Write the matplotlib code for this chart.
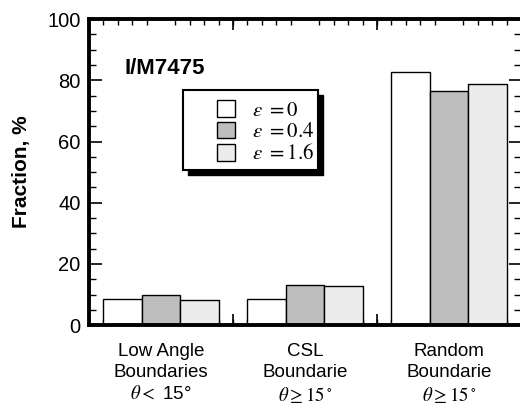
import numpy as np
import matplotlib
matplotlib.use('Agg')
from matplotlib import pyplot as plt
from matplotlib.ticker import MultipleLocator
from matplotlib.patches import Rectangle

plt.rcParams['font.family'] = ['Liberation Sans', 'DejaVu Sans']
plt.rcParams['mathtext.fontset'] = 'stix'

# data
categories = ['Low Angle\nBoundaries\n$\\theta<$ 15°',
              'CSL\nBoundarie\n$\\theta\\geq15^\\circ$',
              'Random\nBoundarie\n$\\theta\\geq15^\\circ$']
series_names = ['$\\varepsilon\\ =0$', '$\\varepsilon\\ =0.4$', '$\\varepsilon\\ =1.6$']
eps0 = [8.5, 8.7, 82.7]
eps04 = [9.9, 13.2, 76.5]
eps16 = [8.2, 12.9, 78.9]
colors = ['white', '#bebebe', '#ececec']

fig = plt.figure(figsize=(5.2, 4.08), dpi=100)
ax = fig.add_axes([0.171, 0.203, 0.831, 0.75])

x = np.arange(len(categories))
w = 0.268
for i, (vals, name, c) in enumerate(zip([eps0, eps04, eps16], series_names, colors)):
    ax.bar(x + (i - 1) * w, vals, w, color=c, edgecolor='black', linewidth=1.0,
           label=name, zorder=2)

ax.set_xlim(-0.5, 2.5)
ax.set_ylim(0, 100)

ax.set_xticks(x)
ax.set_xticklabels(categories, fontsize=13.5, linespacing=1.28)
ax.tick_params(axis='x', which='major', length=0, pad=13)

# boundary ticks between groups, plus minor ticks
ax.xaxis.set_minor_locator(MultipleLocator(0.1))
sec = ax.secondary_xaxis('bottom')
sec.set_xticks([0.5, 1.5])
sec.set_xticklabels([])
sec.tick_params(direction='in', length=8, width=1.2)
sec.spines['bottom'].set_visible(False)
ax.tick_params(axis='x', which='minor', direction='in', length=4, width=1,
               top=True, bottom=True)
top = ax.secondary_xaxis('top')
top.set_xticks([0.5, 1.5])
top.set_xticklabels([])
top.tick_params(direction='in', length=8, width=1.2)
top.spines['top'].set_visible(False)

ax.yaxis.set_major_locator(MultipleLocator(20))
ax.yaxis.set_minor_locator(MultipleLocator(5))
ax.tick_params(axis='y', which='major', direction='in', length=9, width=1.2,
               left=True, right=True, labelsize=14.5, pad=6)
ax.tick_params(axis='y', which='minor', direction='in', length=5, width=1,
               left=True, right=True)

for s in ['left', 'bottom', 'top']:
    ax.spines[s].set_linewidth(2.8)
ax.spines['right'].set_visible(False)

ax.set_ylabel('Fraction, %', fontsize=15, fontweight='bold', labelpad=12)

ax.text(-0.255, 84, 'I/M7475', fontsize=16, fontweight='bold', va='center', ha='left')

# legend frame with black drop shadow
bx, by, bw, bh = 0.218, 0.507, 0.311, 0.261
ax.add_patch(Rectangle((bx + 0.012, by - 0.017), bw, bh, transform=ax.transAxes,
                       facecolor='black', edgecolor='black', zorder=4))
ax.add_patch(Rectangle((bx, by), bw, bh, transform=ax.transAxes,
                       facecolor='white', edgecolor='black', linewidth=1.5, zorder=5))
leg = ax.legend(loc='upper left', bbox_to_anchor=(0.297, 0.735), borderaxespad=0,
                borderpad=0, frameon=False, fontsize=15,
                handlelength=0.85, handleheight=0.85, handletextpad=0.8,
                labelspacing=0.1)
leg.set_zorder(6)

fig.savefig('out.png', dpi=100)
